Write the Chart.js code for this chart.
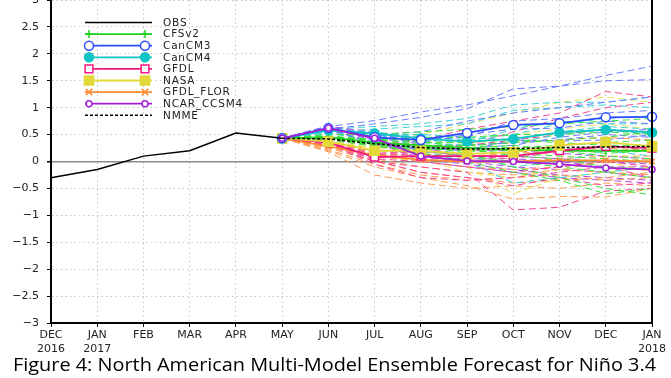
<!DOCTYPE html>
<html><head><meta charset="utf-8">
<script src="https://cdn.jsdelivr.net/npm/chart.js@4.4.1/dist/chart.umd.min.js"></script>
<style>html,body{margin:0;padding:0;background:#fff}</style>
</head><body>
<canvas id="c" width="671" height="378" style="display:block;width:671px;height:378px"></canvas>
<script>
// ---- data ----
const monthLabels = [['DEC','2016'],['JAN','2017'],'FEB','MAR','APR','MAY','JUN','JUL','AUG','SEP','OCT','NOV','DEC',['JAN','2018']];
const titleText = 'Figure 4: North American Multi-Model Ensemble Forecast for Niño 3.4';
const obs = [-0.3,-0.15,0.1,0.2,0.53,0.43];
const forecastStart = 5; // MAY
// ensemble means, MAY..JAN
const cfsv2Mean   = [0.43,0.45,0.35,0.3,0.25,0.22,0.2,0.2,0.2];
const cancm3Mean  = [0.43,0.62,0.45,0.4,0.53,0.68,0.71,0.82,0.83];
const cancm4Mean  = [0.43,0.58,0.52,0.43,0.37,0.42,0.54,0.59,0.54];
const gfdlMean    = [0.43,0.35,0.08,0.1,0.1,0.1,0.2,0.28,0.25];
const nasaMean    = [0.43,0.37,0.2,0.2,0.14,0.17,0.3,0.36,0.28];
const florMean    = [0.43,0.28,0.12,0.03,0.0,0.0,0.02,0.02,0.0];
const ncarMean    = [0.43,0.62,0.43,0.1,0.01,0.0,-0.05,-0.12,-0.15];
const nmmeMean    = [0.43,0.42,0.33,0.26,0.23,0.24,0.26,0.27,0.28];
// ensemble members, MAY..JAN
const cfsv2Members = [
  [0.43,0.5,0.5,0.55,0.6,0.65,0.7,0.75,0.8],
  [0.43,0.45,0.4,0.45,0.45,0.5,0.5,0.55,0.5],
  [0.43,0.48,0.38,0.3,0.3,0.25,0.3,0.35,0.4],
  [0.43,0.44,0.35,0.25,0.2,0.15,0.1,0.05,0.0],
  [0.43,0.42,0.3,0.2,0.1,0.0,-0.1,-0.2,-0.3],
  [0.43,0.46,0.35,0.3,0.15,-0.1,-0.3,-0.5,-0.62],
  [0.43,0.47,0.4,0.35,0.35,0.4,0.35,0.3,0.3],
  [0.43,0.43,0.3,0.25,0.2,0.2,0.25,0.15,0.2],
  [0.43,0.45,0.3,0.15,0.0,-0.2,-0.35,-0.6,-0.5],
  [0.43,0.44,0.32,0.28,0.3,0.35,0.4,0.45,0.55],
  [0.43,0.46,0.42,0.38,0.25,0.1,0.05,-0.1,-0.15],
  [0.43,0.41,0.28,0.22,0.25,0.3,0.2,0.1,0.05]
];
const cancm3Members = [
  [0.43,0.65,0.76,0.92,1.05,1.22,1.4,1.6,1.77],
  [0.43,0.6,0.7,0.82,0.98,1.35,1.4,1.5,1.52],
  [0.43,0.58,0.5,0.55,0.75,0.9,1.0,1.1,1.2],
  [0.43,0.62,0.45,0.35,0.5,0.6,0.62,0.75,0.7],
  [0.43,0.6,0.35,0.3,0.3,0.35,0.4,0.5,0.45],
  [0.43,0.66,0.4,0.2,0.25,0.3,0.45,0.55,0.6],
  [0.43,0.63,0.3,0.25,0.2,0.4,0.38,0.4,0.5],
  [0.43,0.64,0.5,0.4,0.45,0.75,0.8,0.9,0.95]
];
const cancm4Members = [
  [0.43,0.6,0.65,0.7,0.8,1.05,1.1,1.1,1.2],
  [0.43,0.55,0.6,0.65,0.7,0.95,1.0,1.05,1.0],
  [0.43,0.58,0.55,0.45,0.4,0.5,0.7,0.8,0.85],
  [0.43,0.6,0.5,0.35,0.3,0.35,0.5,0.6,0.5],
  [0.43,0.55,0.45,0.3,0.1,-0.1,0.0,0.2,0.1],
  [0.43,0.52,0.4,0.2,0.0,-0.4,-0.3,-0.2,-0.1],
  [0.43,0.6,0.5,0.5,0.45,0.4,0.55,0.65,0.6],
  [0.43,0.57,0.55,0.4,0.35,0.6,0.75,0.7,0.7]
];
const gfdlMembers = [
  [0.43,0.4,0.3,0.4,0.6,0.75,0.9,1.3,1.2],
  [0.43,0.35,0.1,0.15,0.3,0.55,0.8,1.0,1.1],
  [0.43,0.3,0.0,-0.1,-0.2,-0.9,-0.85,-0.55,-0.5],
  [0.43,0.33,-0.05,-0.3,-0.35,-0.3,-0.2,-0.1,-0.3],
  [0.43,0.38,0.15,0.2,0.1,0.05,0.2,0.3,0.2],
  [0.43,0.32,0.05,0.0,-0.1,-0.2,-0.1,0.0,-0.1],
  [0.43,0.36,0.12,0.2,0.3,0.4,0.5,0.6,0.55],
  [0.43,0.34,0.02,-0.2,-0.3,-0.45,-0.3,-0.45,-0.4]
];
const nasaMembers = [
  [0.43,0.4,0.35,0.5,0.7,0.9,1.1,1.2,1.1],
  [0.43,0.38,0.25,0.3,0.3,0.35,0.5,0.6,0.5],
  [0.43,0.35,0.1,0.0,-0.1,-0.6,-0.3,-0.2,-0.1],
  [0.43,0.36,0.2,0.15,0.1,0.1,0.2,0.3,0.2],
  [0.43,0.37,0.15,0.05,-0.2,-0.3,-0.15,0.0,-0.2],
  [0.43,0.39,0.3,0.35,0.4,0.5,0.6,0.7,0.6]
];
const florMembers = [
  [0.43,0.35,0.25,0.25,0.3,0.35,0.4,0.45,0.4],
  [0.43,0.3,0.1,0.0,-0.1,-0.15,-0.1,0.0,0.05],
  [0.43,0.2,-0.1,-0.3,-0.45,-0.7,-0.65,-0.66,-0.5],
  [0.43,0.25,0.0,-0.2,-0.3,-0.4,-0.35,-0.3,-0.2],
  [0.43,0.18,-0.25,-0.4,-0.5,-0.45,-0.5,-0.4,-0.45],
  [0.43,0.3,0.15,0.1,0.1,0.15,0.2,0.25,0.2],
  [0.43,0.27,0.05,-0.1,-0.2,-0.25,-0.15,-0.2,-0.25],
  [0.43,0.32,0.2,0.15,0.05,0.0,0.05,0.1,0.1],
  [0.43,0.22,-0.05,-0.25,-0.35,-0.3,-0.25,-0.35,-0.3]
];
const ncarMembers = [
  [0.43,0.65,0.55,0.3,0.2,0.2,0.15,0.1,0.05],
  [0.43,0.6,0.45,0.1,0.0,-0.1,-0.15,-0.2,-0.3],
  [0.43,0.64,0.4,0.0,-0.1,-0.2,-0.3,-0.35,-0.4],
  [0.43,0.58,0.35,0.05,0.05,0.05,0.0,-0.1,-0.1],
  [0.43,0.66,0.5,0.2,0.1,0.1,0.05,0.0,-0.05],
  [0.43,0.6,0.4,0.05,-0.05,-0.15,-0.25,-0.3,-0.35]
];

// ---- build ----
const pad = v => Array(forecastStart).fill(null).concat(v);
const models = [
  {label:'CFSv2', mean:cfsv2Mean, members:cfsv2Members, color:'#1fd01f', mcolor:'#3ee03e', ps:'cross', r:4, fill:'#1fd01f'},
  {label:'CanCM3', mean:cancm3Mean, members:cancm3Members, color:'#2a4cff', mcolor:'#6a7cff', ps:'circle', r:4.5, fill:'#ffffff'},
  {label:'CanCM4', mean:cancm4Mean, members:cancm4Members, color:'#10c4c4', mcolor:'#3cd0d0', ps:'circle', r:4.5, fill:'#10c4c4'},
  {label:'GFDL', mean:gfdlMean, members:gfdlMembers, color:'#f0187f', mcolor:'#f5479a', ps:'rect', r:5.5, fill:'#ffffff'},
  {label:'NASA', mean:nasaMean, members:nasaMembers, color:'#e2d838', mcolor:'#e8de5a', ps:'rect', r:6.5, fill:'#e2d838'},
  {label:'GFDL_FLOR', mean:florMean, members:florMembers, color:'#ff8a33', mcolor:'#ff9a50', ps:'crossRot', r:4, fill:'#ff8a33'},
  {label:'NCAR_CCSM4', mean:ncarMean, members:ncarMembers, color:'#a51fd6', mcolor:'#b64ce0', ps:'circle', r:3, fill:'#ffffff'}
];
const meanOrder = {'NCAR_CCSM4':1.0,'CanCM3':1.1,'CanCM4':1.2,'NASA':1.3,'GFDL':1.4,'CFSv2':1.5,'GFDL_FLOR':1.6};
const datasets = [];
datasets.push({label:'OBS', data:obs, borderColor:'#000', borderWidth:1.5, pointRadius:0, order:0, legend:{ps:null}});
models.forEach(m => {
  datasets.push({label:m.label, data:pad(m.mean), borderColor:m.color, backgroundColor:m.fill,
    borderWidth:1.8, pointStyle:m.ps, pointRadius:m.r, pointBorderWidth:1.5, pointBorderColor:m.color,
    pointBackgroundColor:m.fill, order:meanOrder[m.label], legend:{ps:m.ps, r:m.r, fill:m.fill}});
});
datasets.push({label:'NMME', data:pad(nmmeMean), borderColor:'#000', borderWidth:1.5, borderDash:[3,2],
  pointRadius:0, order:0.5, legend:{ps:null}});
models.forEach(m => m.members.forEach(mem => {
  datasets.push({label:m.label+' member', data:pad(mem), borderColor:m.mcolor, borderWidth:1,
    borderDash:[7,4], pointRadius:0, order:10});
}));

function drawMarker(ctx, ps, x, y, r, color, fill){
  ctx.save();
  ctx.strokeStyle = color; ctx.fillStyle = fill; ctx.lineWidth = 1.5;
  ctx.beginPath();
  if (ps === 'circle') { ctx.arc(x, y, r, 0, Math.PI*2); ctx.fill(); ctx.stroke(); }
  else if (ps === 'rect') { const s = r*Math.SQRT1_2; ctx.rect(x-s, y-s, 2*s, 2*s); ctx.fill(); ctx.stroke(); }
  else if (ps === 'cross') { ctx.moveTo(x, y-r); ctx.lineTo(x, y+r); ctx.moveTo(x-r, y); ctx.lineTo(x+r, y); ctx.stroke(); }
  else if (ps === 'crossRot') { const s=r*0.8; ctx.moveTo(x-s,y-s); ctx.lineTo(x+s,y+s); ctx.moveTo(x+s,y-s); ctx.lineTo(x-s,y+s); ctx.stroke(); }
  ctx.restore();
}

const figurePlugin = {
  id:'figure',
  afterDraw(chart){
    const ctx = chart.ctx, ca = chart.chartArea;
    ctx.save();
    // right border
    ctx.strokeStyle = '#000'; ctx.lineWidth = 2;
    ctx.beginPath(); ctx.moveTo(ca.right, ca.top); ctx.lineTo(ca.right, ca.bottom); ctx.stroke();
    // legend
    const x0 = 85, x1 = 152, tx = 163, y0 = 22.5, dy = 11.6;
    let row = 0;
    chart.data.datasets.filter(d => d.legend).forEach(d => {
      const y = y0 + row*dy; row++;
      ctx.save();
      ctx.strokeStyle = d.borderColor; ctx.lineWidth = d.borderWidth;
      ctx.setLineDash(d.borderDash || []);
      ctx.beginPath(); ctx.moveTo(x0, y); ctx.lineTo(x1, y); ctx.stroke();
      ctx.restore();
      if (d.legend.ps) {
        drawMarker(ctx, d.legend.ps, 89, y, d.legend.r, d.borderColor, d.legend.fill);
        drawMarker(ctx, d.legend.ps, 145, y, d.legend.r, d.borderColor, d.legend.fill);
      }
      ctx.save();
      ctx.fillStyle = '#222'; ctx.font = '10.5px "DejaVu Sans"';
      try { ctx.letterSpacing = '0.8px'; } catch(e) {}
      ctx.textAlign = 'left'; ctx.textBaseline = 'middle';
      ctx.fillText(d.label, tx, y + 0.5);
      ctx.restore();
    });
    // caption
    ctx.font = '19px "Open Sans"';
    const w = ctx.measureText(titleText).width;
    const k = 643 / w;
    ctx.translate(334.5, 371);
    ctx.scale(k, 1);
    ctx.fillStyle = '#000'; ctx.textAlign = 'center'; ctx.textBaseline = 'alphabetic';
    ctx.fillText(titleText, 0, 0);
    ctx.restore();
  }
};

const tickFont = {family:'DejaVu Sans', size:11};
new Chart(document.getElementById('c'), {
  type:'line',
  data:{labels:monthLabels, datasets},
  options:{
    responsive:false, animation:false, devicePixelRatio:1,
    layout:{autoPadding:false, padding:{left:0, right:19, top:0, bottom:0}},
    elements:{line:{tension:0}},
    plugins:{legend:{display:false}, title:{display:false}, tooltip:{enabled:false}},
    scales:{
      x:{type:'category', offset:false,
        grid:{color:'#c8c8c8', lineWidth:1, tickColor:'#000', tickLength:4, drawTicks:true},
        border:{display:true, color:'#000', width:2, dash:[1.5,3]},
        ticks:{font:tickFont, color:'#222', maxRotation:0, autoSkip:false, padding:2},
        afterFit(s){ s.height = 55; s.paddingLeft = 0; s.paddingRight = 0; }
      },
      y:{type:'linear', min:-3, max:3,
        grid:{color:c => (c.tick && c.tick.value === 0) ? '#8a8a8a' : '#c8c8c8',
              lineWidth:c => (c.tick && c.tick.value === 0) ? 1.5 : 1,
              tickColor:'#000', tickLength:4},
        border:{display:true, color:'#000', width:2,
                dash:c => (c.tick && c.tick.value === 0) ? [] : [1.5,3]},
        ticks:{stepSize:0.5, font:tickFont, color:'#222', padding:8,
               callback:v => String(v).replace('-', '\u2212')},
        afterFit(s){ s.width = 51; s.paddingTop = 0; s.paddingBottom = 0; }
      }
    }
  },
  plugins:[figurePlugin]
});
</script>
</body></html>
